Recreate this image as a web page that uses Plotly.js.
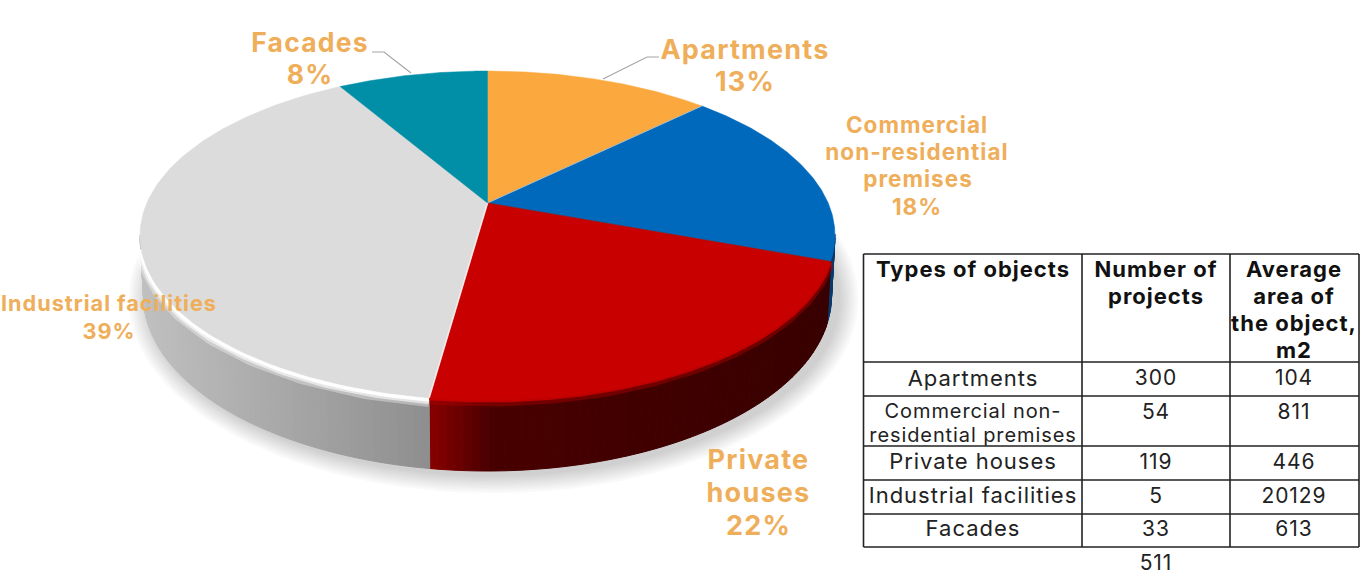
<!DOCTYPE html>
<html><head><meta charset="utf-8">
<script src="https://cdn.plot.ly/plotly-3.0.1.min.js"></script>
<style>
html,body{margin:0;padding:0;background:#fff;overflow:hidden}
#chart{width:1362px;height:578px}
#chart text{letter-spacing:.045em}
</style></head><body><div id="chart"></div>
<script>
// ---- data ----
const categories = ["Apartments","Commercial non-residential premises","Private houses","Industrial facilities","Facades"];
const shares = [12.7,17.9,21.6,39.35,8.45];
const sliceColors = ["#FBA93F","#0069BC","#C80000","#DCDCDC","#008FA6"];
const tableTypes = ["Apartments","Commercial non-|residential premises","Private houses","Industrial facilities","Facades"];
const tableProjects = [300,54,119,5,33];
const tableAreas = [104,811,446,20129,613];
const tableTotal = 511;
const headerTypes = ["Types of objects"];
const headerProjects = ["Number of","projects"];
const headerAreas = ["Average","area of","the object,","m2"];

// ---- layout of the drawing (pixels = axis units) ----
const apex = {x:487.5,y:203}, backR = 132, frontR = 197, rxTop = 347.5;
const k = (frontR-backR)/(frontR+backR), B = backR*(1+k), A = rxTop*Math.sqrt(1-k*k);
const ell = {y:apex.y+(frontR-backR)/2, ry:(frontR+backR)/2};
const base = {y:296, rx:344, ry:175};
const top3d = t => { const u=Math.sin(t), v=Math.cos(t), d=1+k*v;
  return {x:apex.x+A*u/d, y:apex.y-B*v/d}; };
const bottom3d = p => { const c=(p.x-apex.x)/rxTop, s=(p.y-ell.y)/ell.ry;
  return {x:apex.x+base.rx*c, y:base.y+base.ry*s}; };
const total = shares.reduce((a,b)=>a+b,0);
const bounds = [0]; shares.forEach(s=>bounds.push(bounds[bounds.length-1]+s/total*2*Math.PI));
const traces = [];
const poly = (pts,fill,lineCol,w)=>traces.push({type:"scatter",mode:"lines",x:pts.map(p=>p.x),y:pts.map(p=>p.y),
  fill:"toself",fillcolor:fill,line:{color:lineCol||fill,width:w===undefined?0.8:w},hoverinfo:"skip",showlegend:false});
const path = (pts,col,w)=>traces.push({type:"scatter",mode:"lines",x:pts.map(p=>p.x),y:pts.map(p=>p.y),
  line:{color:col,width:w},hoverinfo:"skip",showlegend:false});
const arc = (a,b,n=120)=>{const r=[];for(let i=0;i<=n;i++)r.push(top3d(a+(b-a)*i/n));return r;};

// soft shadow under the disc
for(let i=8;i>=1;i--){ const pts=[];
  for(let j=0;j<=120;j++){const f=j/120*2*Math.PI;
    pts.push({x:apex.x+6+(base.rx+i*2.6)*Math.cos(f), y:base.y+3+(base.ry+i*2.4)*Math.sin(f)});}
  traces.push({type:"scatter",mode:"lines",x:pts.map(p=>p.x),y:pts.map(p=>p.y),fill:"toself",
    fillcolor:"rgba(0,0,0,0.022)",line:{width:0},hoverinfo:"skip",showlegend:false});
}
// side wall
const lerp=(a,b,t)=>a.map((v,i)=>Math.round(v+(b[i]-v)*Math.max(0,Math.min(1,t))));
const rgb=c=>`rgb(${c.join(",")})`;
function wallColor(i,x){
  if(i===3) return lerp([192,192,192],[142,142,142],(x-140)/290);
  if(i===2) return x<490? lerp([136,0,0],[72,0,0],(x-430)/60): lerp([72,0,0],[56,0,0],(x-490)/340);
  return [10,58,108];
}
shares.forEach((s,i)=>{
  const n=Math.max(2,Math.round((bounds[i+1]-bounds[i])/0.02));
  for(let j=0;j<n;j++){
    const a=bounds[i]+(bounds[i+1]-bounds[i])*j/n, b=bounds[i]+(bounds[i+1]-bounds[i])*(j+1)/n;
    const p=top3d(a), q=top3d(b);
    if(p.y<ell.y && q.y<ell.y) continue;
    poly([p,q,bottom3d(q),bottom3d(p),p],rgb(wallColor(i,(p.x+q.x)/2)),undefined,1);
  }
});
// rim highlight
const below=(pts,d)=>pts.map(p=>({x:p.x,y:p.y+d}));
const greyRim=arc(bounds[3],3*Math.PI/2-0.02).filter(p=>p.y>ell.y+10);
path(below(greyRim,4),"rgba(255,255,255,0.35)",11);
path(below(greyRim,3),"rgba(255,255,255,0.6)",7);
path(below(greyRim,2),"rgba(255,255,255,0.95)",4);
const redRim=arc(bounds[2],bounds[3]);
path(below(redRim,3),"rgba(170,0,0,0.45)",7);
path(below(redRim,1),"rgba(200,0,0,0.9)",3);
// top faces
shares.forEach((s,i)=>{
  const a=arc(bounds[i],bounds[i+1]);
  poly([apex,...a,apex],sliceColors[i],sliceColors[i],0.5);
});
// light seams between slices
path([apex,top3d(bounds[1])],"rgba(255,235,205,0.6)",1);
path([apex,top3d(bounds[2])],"rgba(120,30,30,0.45)",1);
path([apex,top3d(bounds[3])],"rgba(255,240,240,0.85)",1.6);
// leader lines
path([{x:372,y:52},{x:384,y:52},{x:411,y:73}],"#A6A6A6",1.2);
path([{x:659,y:57},{x:647,y:57},{x:603,y:79}],"#A6A6A6",1.2);

// chart labels, one entry per text line
const labelColor="#EFAE5A";
const labelLines=[
 ["Apartments",745,52,27],["13%",745,84,27],
 ["Commercial",917,127,22.5],["non-residential",917,154,22.5],["premises",918,181,22.5],["18%",917,209,22.5],
 ["Private",758.5,462,27],["houses",758.5,495,27],["22%",758.5,528,27],
 ["Industrial facilities",109,306,21.7],["39%",109,334,21.7],
 ["Facades",310,45,26.5],["8%",310,77,26.5]];
traces.push({type:"scatter",mode:"text",x:labelLines.map(l=>l[1]),y:labelLines.map(l=>l[2]),text:labelLines.map(l=>l[0]),
  textposition:"middle center",textfont:{family:"Inter",size:labelLines.map(l=>l[3]),color:labelColor,weight:700},
  hoverinfo:"skip",showlegend:false});

// table text
const col=[973,1156,1294];
const hdr=[[headerTypes,col[0]],[headerProjects,col[1]],[headerAreas,col[2]]];
const hx=[],hy=[],ht=[];
hdr.forEach(([lines,x])=>lines.forEach((t,i)=>{hx.push(x);hy.push(271+i*27);ht.push(t);}));
traces.push({type:"scatter",mode:"text",x:hx,y:hy,text:ht,textposition:"middle center",
  textfont:{family:"Inter",size:22,color:"#111",weight:700},hoverinfo:"skip",showlegend:false});
const rowY=[380,413.5,463.5,497.5,530.5];
const bx=[],by=[],bt=[],bs=[];
tableTypes.forEach((t,i)=>{const parts=t.split("|");
  parts.forEach((p,j)=>{bx.push(col[0]);by.push(parts.length>1?412.5+j*24:rowY[i]);bt.push(p);bs.push(parts.length>1?20:22);});
  bx.push(col[1]);by.push(rowY[i]);bt.push(String(tableProjects[i]));bs.push(21);
  bx.push(col[2]);by.push(rowY[i]);bt.push(String(tableAreas[i]));bs.push(21);
});
bx.push(col[1]);by.push(564.5);bt.push(String(tableTotal));bs.push(21);
traces.push({type:"scatter",mode:"text",x:bx,y:by,text:bt,textposition:"middle center",
  textfont:{family:"Inter",size:bs,color:"#222"},hoverinfo:"skip",showlegend:false});

// table grid
const xEdges=[863.5,1082,1230,1359], yEdges=[254,362,396,446,480,514,547];
const line=(x0,y0,x1,y1)=>({type:"line",xref:"x",yref:"y",x0,y0,x1,y1,line:{color:"#222",width:1.6}});
const shapes=[...xEdges.map(x=>line(x,yEdges[0],x,yEdges[yEdges.length-1])),
              ...yEdges.map(y=>line(xEdges[0],y,xEdges[3],y))];

Plotly.newPlot("chart",traces,{
  width:1362,height:578,margin:{l:0,r:0,t:0,b:0,pad:0},paper_bgcolor:"#fff",plot_bgcolor:"#fff",showlegend:false,
  xaxis:{range:[0,1362],visible:false,fixedrange:true},
  yaxis:{range:[578,0],visible:false,fixedrange:true},
  shapes,font:{family:"Inter"}
},{displayModeBar:false,staticPlot:true});
</script></body></html>
